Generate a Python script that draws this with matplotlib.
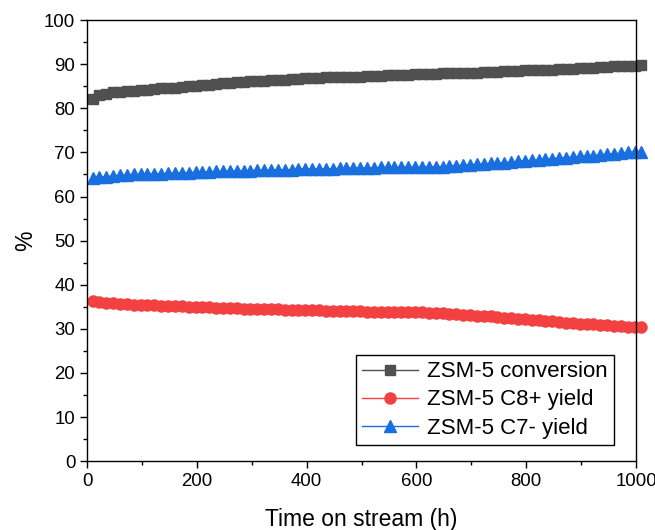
import matplotlib.pyplot as plt
from matplotlib.ticker import MultipleLocator

plt.rcParams['font.family'] = ['Liberation Sans', 'DejaVu Sans']

# time on stream (h)
hours = [10, 22.5, 35, 47.5, 60, 72.5, 85, 97.5, 110, 122.5,
         135, 147.5, 160, 172.5, 185, 197.5, 210, 222.5, 235, 247.5,
         260, 272.5, 285, 297.5, 310, 322.5, 335, 347.5, 360, 372.5,
         385, 397.5, 410, 422.5, 435, 447.5, 460, 472.5, 485, 497.5,
         510, 522.5, 535, 547.5, 560, 572.5, 585, 597.5, 610, 622.5,
         635, 647.5, 660, 672.5, 685, 697.5, 710, 722.5, 735, 747.5,
         760, 772.5, 785, 797.5, 810, 822.5, 835, 847.5, 860, 872.5,
         885, 897.5, 910, 922.5, 935, 947.5, 960, 972.5, 985, 997.5,
         1010]

conversion = [82.1, 83.0, 83.3, 83.6, 83.8, 83.9, 84.0, 84.1, 84.2, 84.3,
              84.5, 84.6, 84.7, 84.8, 85.0, 85.1, 85.3, 85.4, 85.5, 85.7,
              85.8, 85.9, 86.0, 86.1, 86.2, 86.3, 86.4, 86.5, 86.5, 86.6,
              86.7, 86.8, 86.8, 86.9, 87.0, 87.0, 87.1, 87.1, 87.2, 87.2,
              87.3, 87.4, 87.4, 87.5, 87.5, 87.6, 87.6, 87.7, 87.7, 87.8,
              87.8, 87.9, 87.9, 88.0, 88.0, 88.1, 88.1, 88.2, 88.2, 88.3,
              88.4, 88.4, 88.5, 88.6, 88.6, 88.7, 88.8, 88.8, 88.9, 89.0,
              89.0, 89.1, 89.2, 89.2, 89.3, 89.4, 89.5, 89.5, 89.6, 89.7,
              89.8]

c8_yield = [36.2, 36.0, 35.9, 35.8, 35.7, 35.6, 35.5, 35.4, 35.4, 35.3,
            35.2, 35.2, 35.1, 35.1, 35.0, 35.0, 34.9, 34.9, 34.8, 34.8,
            34.7, 34.7, 34.6, 34.6, 34.5, 34.5, 34.4, 34.4, 34.3, 34.3,
            34.3, 34.2, 34.2, 34.2, 34.1, 34.1, 34.1, 34.0, 34.0, 34.0,
            33.9, 33.9, 33.9, 33.8, 33.8, 33.8, 33.7, 33.7, 33.7, 33.6,
            33.6, 33.5, 33.4, 33.3, 33.2, 33.1, 33.0, 32.9, 32.8, 32.7,
            32.5, 32.4, 32.3, 32.2, 32.1, 31.9, 31.8, 31.7, 31.6, 31.4,
            31.3, 31.2, 31.1, 31.0, 30.9, 30.8, 30.7, 30.6, 30.5, 30.4,
            30.3]

c7_yield = [64.2, 64.4, 64.5, 64.7, 64.8, 64.9, 65.0, 65.0, 65.1, 65.2,
            65.2, 65.3, 65.3, 65.4, 65.4, 65.5, 65.6, 65.6, 65.7, 65.7,
            65.8, 65.8, 65.9, 65.9, 66.0, 66.0, 66.0, 66.1, 66.1, 66.1,
            66.2, 66.2, 66.2, 66.3, 66.3, 66.3, 66.4, 66.4, 66.5, 66.5,
            66.5, 66.5, 66.6, 66.6, 66.6, 66.6, 66.6, 66.7, 66.7, 66.7,
            66.8, 66.8, 66.9, 67.0, 67.1, 67.2, 67.3, 67.4, 67.5, 67.6,
            67.7, 67.8, 68.0, 68.1, 68.2, 68.3, 68.5, 68.6, 68.7, 68.8,
            69.0, 69.1, 69.2, 69.3, 69.5, 69.6, 69.7, 69.8, 70.0, 70.1,
            70.2]

fig = plt.figure(figsize=(6.55, 5.3), dpi=100)
ax = fig.add_axes([0.133, 0.130, 0.838, 0.832])

# markers overlap into a band, last point sits just past x=1000
ax.plot(hours, conversion, color='#505050', marker='s', markersize=7.5,
        linewidth=1, label='ZSM-5 conversion', clip_on=False)
ax.plot(hours, c8_yield, color='#f34141', marker='o', markersize=8,
        linewidth=1, label='ZSM-5 C8+ yield', clip_on=False)
ax.plot(hours, c7_yield, color='#1a6fe0', marker='^', markersize=8,
        linewidth=1, label='ZSM-5 C7- yield', clip_on=False)

ax.set_xlim(0, 1000)
ax.set_ylim(0, 100)
ax.xaxis.set_major_locator(MultipleLocator(200))
ax.xaxis.set_minor_locator(MultipleLocator(100))
ax.yaxis.set_major_locator(MultipleLocator(10))
ax.yaxis.set_minor_locator(MultipleLocator(5))
ax.tick_params(which='major', direction='out', length=5, width=1,
               labelsize=13.4)
ax.tick_params(which='minor', direction='out', length=3, width=1)
for s in ax.spines.values():
    s.set_linewidth(1)

ax.set_xlabel('Time on stream (h)', fontsize=16.5, labelpad=13)
ax.set_ylabel('%', fontsize=16.5, labelpad=5)

leg = ax.legend(loc='lower right', bbox_to_anchor=(0.96, 0.036),
                fontsize=16, fancybox=False, edgecolor='black',
                framealpha=1, handlelength=2.5, borderaxespad=0,
                labelspacing=0.32, borderpad=0.3, handletextpad=0.4)
leg.get_frame().set_linewidth(1)

fig.savefig('out.png', dpi=100)
